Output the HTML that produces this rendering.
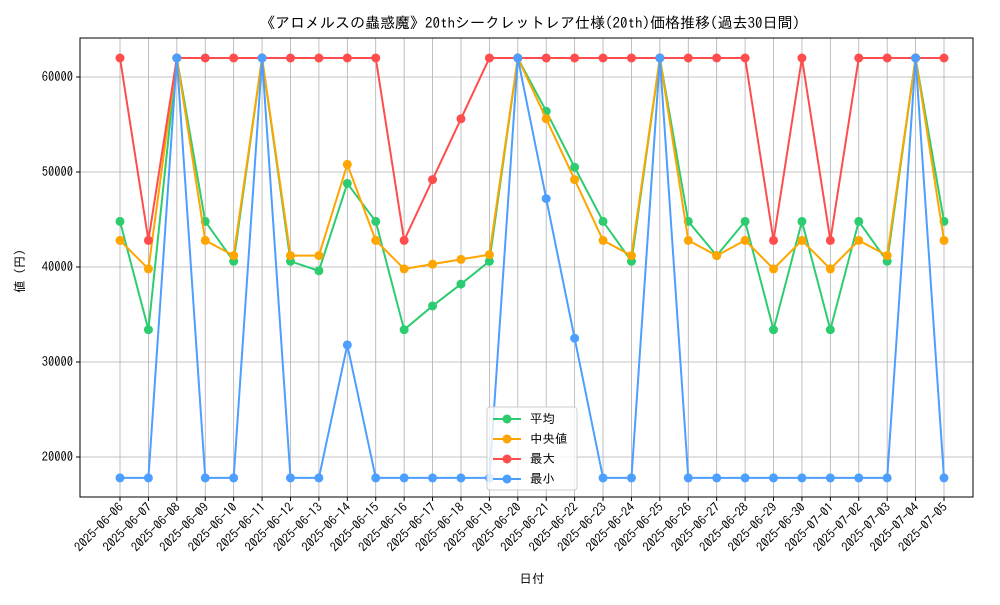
<!DOCTYPE html>
<html><head><meta charset="utf-8"><style>
body{margin:0;background:#fff}
svg text{font-family:"IPAGothic","Noto Sans CJK JP",sans-serif;fill:#000}
</style></head><body>
<svg id="chart" width="1000" height="600" xmlns="http://www.w3.org/2000/svg"></svg>
<script>
const dates=["2025-06-06","2025-06-07","2025-06-08","2025-06-09","2025-06-10","2025-06-11","2025-06-12","2025-06-13","2025-06-14","2025-06-15","2025-06-16","2025-06-17","2025-06-18","2025-06-19","2025-06-20","2025-06-21","2025-06-22","2025-06-23","2025-06-24","2025-06-25","2025-06-26","2025-06-27","2025-06-28","2025-06-29","2025-06-30","2025-07-01","2025-07-02","2025-07-03","2025-07-04","2025-07-05"];
const avgVals=[44800,33400,62000,44800,40600,62000,40600,39600,48800,44800,33400,35900,38200,40600,62000,56400,50500,44800,40600,62000,44800,41200,44800,33400,44800,33400,44800,40600,62000,44800];
const medVals=[42800,39800,62000,42800,41200,62000,41200,41200,50800,42800,39800,40300,40800,41300,62000,55600,49200,42800,41200,62000,42800,41200,42800,39800,42800,39800,42800,41200,62000,42800];
const maxVals=[62000,42800,62000,62000,62000,62000,62000,62000,62000,62000,42800,49200,55600,62000,62000,62000,62000,62000,62000,62000,62000,62000,62000,42800,62000,42800,62000,62000,62000,62000];
const minVals=[17800,17800,62000,17800,17800,62000,17800,17800,31800,17800,17800,17800,17800,17800,62000,47200,32500,17800,17800,62000,17800,17800,17800,17800,17800,17800,17800,17800,62000,17800];
const yTicks=[20000,30000,40000,50000,60000];
const svg=document.getElementById('chart');const NS="http://www.w3.org/2000/svg";
const L=80,R=973,T=38,B=497;
const x=i=>120+i*(944-120)/(dates.length-1);
const y=v=>457-(v-20000)*0.0095;
function el(tag,attrs,parent){const e=document.createElementNS(NS,tag);for(const k in attrs)e.setAttribute(k,attrs[k]);(parent||svg).appendChild(e);return e;}
let t=el('text',{x:530,y:28,'text-anchor':'middle','font-size':15});t.textContent="《アロメルスの蟲惑魔》20thシークレットレア仕様(20th)価格推移(過去30日間)";

dates.forEach((d,i)=>{const g=el('line',{x1:x(i),x2:x(i),y1:T,y2:B,stroke:'#b0b0b0','stroke-width':0.8});

el('line',{x1:x(i),x2:x(i),y1:B,y2:B+4,stroke:'#000'});
const tx=el('text',{x:x(i)+4,y:B+11,'text-anchor':'end','font-size':12.5,transform:`rotate(-45 ${x(i)+4} ${B+11})`});tx.textContent=d;
});
yTicks.forEach(v=>{const g=el('line',{x1:L,x2:R,y1:y(v),y2:y(v),stroke:'#b0b0b0','stroke-width':0.8});

el('line',{x1:L-4,x2:L,y1:y(v),y2:y(v),stroke:'#000'});
const tx=el('text',{x:L-7,y:y(v)+4,'text-anchor':'end','font-size':12.5});tx.textContent=v;
});
const series=[["平均",avgVals,"#2ecc71"],["中央値",medVals,"#ffa500"],["最大",maxVals,"#ff4d4d"],["最小",minVals,"#4d9fff"]];
series.forEach(([name,vals,c])=>{const p=el('polyline',{points:vals.map((v,i)=>x(i)+','+y(v)).join(' '),fill:'none',stroke:c,'stroke-width':2});

vals.forEach((v,i)=>{const m=el('circle',{cx:x(i),cy:y(v),r:4.5,fill:c});
});});
const fr=el('rect',{x:L,y:T,width:R-L,height:B-T,fill:'none',stroke:'#000','stroke-width':1});

const lg=el('g',{});
el('rect',{x:487,y:407,width:90,height:83,fill:'#fff','fill-opacity':0.8,stroke:'#ccc',rx:3},lg);
series.forEach(([name,vals,c],k)=>{const yy=419+k*20;
el('line',{x1:493,x2:521,y1:yy,y2:yy,stroke:c,'stroke-width':2},lg);el('circle',{cx:507,cy:yy,r:4.5,fill:c},lg);
const tx=el('text',{x:530,y:yy+4,'font-size':12.5},lg);tx.textContent=name;
});
t=el('text',{x:532,y:583,'text-anchor':'middle','font-size':12.5});t.textContent="日付";

t=el('text',{x:24,y:268,'text-anchor':'middle','font-size':12.5,transform:'rotate(-90 24 268)'});t.textContent="値（円）";

</script>
</body></html>
